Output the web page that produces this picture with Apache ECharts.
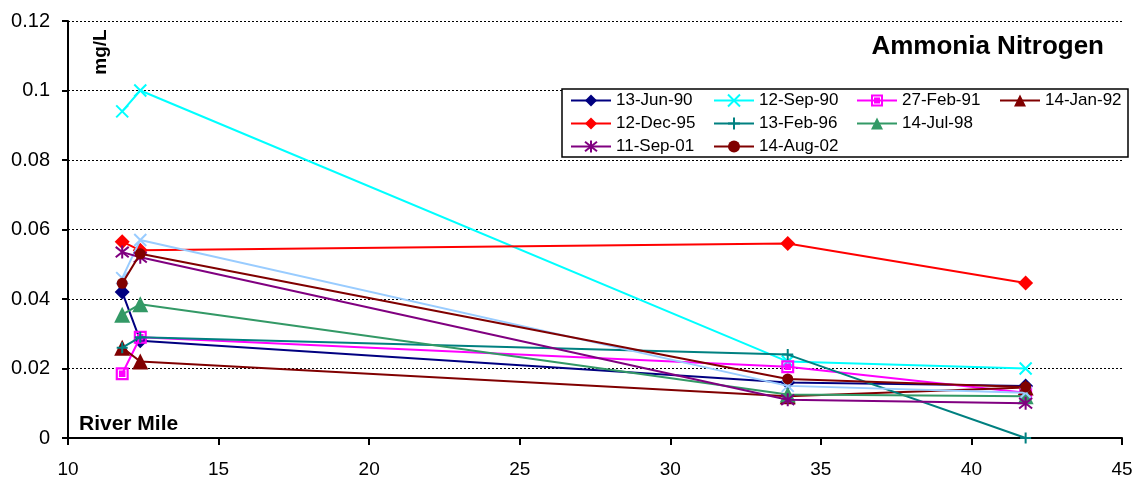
<!DOCTYPE html>
<html>
<head>
<meta charset="utf-8">
<script src="https://cdn.jsdelivr.net/npm/echarts@6/dist/echarts.min.js"></script>
<style>html,body{margin:0;padding:0;background:#fff}#c{width:1141px;height:485px}</style>
</head>
<body>
<div id="c"></div>
<script>
var riverMile = [11.8, 12.4, 33.9, 41.8];
var seriesNames = ['13-Jun-90','12-Sep-90','27-Feb-91','14-Jan-92','12-Dec-95','13-Feb-96','14-Jul-98','12-Oct-99','11-Sep-01','14-Aug-02'];
var jun90 = [0.042, 0.028, 0.016, 0.015];
var sep90 = [0.094, 0.100, 0.022, 0.020];
var feb91 = [0.0185, 0.029, 0.0205, 0.013];
var jan92 = [0.026, 0.022, 0.012, 0.0145];
var dec95 = [0.0565, 0.054, 0.056, 0.0446];
var feb96 = [0.026, 0.029, 0.024, 0.000];
var jul98 = [0.0355, 0.0385, 0.0125, 0.012];
var oct99 = [0.046, 0.057, 0.015, 0.013];
var sep01 = [0.0535, 0.052, 0.011, 0.010];
var aug02 = [0.0445, 0.053, 0.017, 0.0147];
var yTicks = [0, 0.02, 0.04, 0.06, 0.08, 0.1, 0.12];
var xTicks = [10, 15, 20, 25, 30, 35, 40, 45];

var values = [jun90, sep90, feb91, jan92, dec95, feb96, jul98, oct99, sep01, aug02];
var colors = ['#000080','#00FFFF','#FF00FF','#800000','#FF0000','#008080','#339966','#99CCFF','#800080','#800000'];
var XP = 'path://M0,0L10,10M10,0L0,10';
var PLUS = 'path://M5,0L5,10M0,5L10,5';
var STAR = 'path://M5,0L5,10M0,1L10,9M10,1L0,9';
var SQ = 'path://M0,0H12V12H0Z M2,2V10H10V2Z M3,3H9V9H3Z';
var symbols = ['diamond', XP, SQ, 'triangle', 'diamond', PLUS, 'triangle', XP, STAR, 'circle'];
var sizes = [15, 12, 13, 16, 15, 11, 16, 12, 13, 11];
var stroked = [false, true, false, false, false, true, false, true, true, false];
var FONT = '"Liberation Sans", Arial, sans-serif';

var series = values.map(function (v, i) {
  return {
    name: seriesNames[i],
    type: 'line',
    data: riverMile.map(function (x, k) { return [x, v[k]]; }),
    symbol: symbols[i],
    symbolSize: sizes[i],
    lineStyle: { color: colors[i], width: 2 },
    itemStyle: { color: stroked[i] ? 'rgba(0,0,0,0)' : colors[i], borderColor: colors[i], borderWidth: stroked[i] ? 2 : 0 },
    emphasis: { disabled: true },
    animation: false,
    z: 2 + i * 0.01
  };
});

var cols = [
  ['13-Jun-90','12-Dec-95','11-Sep-01'],
  ['12-Sep-90','13-Feb-96','14-Aug-02'],
  ['27-Feb-91','14-Jul-98'],
  ['14-Jan-92']
];
var colX = [570, 713, 856, 999];
var legends = cols.map(function (c, i) {
  return {
    data: c, orient: 'vertical', left: colX[i], top: 92, padding: 0,
    itemWidth: 40, itemHeight: 15, itemGap: 6, selectedMode: false,
    textStyle: { fontFamily: FONT, fontSize: 17, color: '#000', lineHeight: 15 },
    z: 10
  };
});

var chart = echarts.init(document.getElementById('c'));
chart.setOption({
  animation: false,
  backgroundColor: '#fff',
  grid: { left: 68, top: 21, right: 19, bottom: 47, containLabel: false },
  legend: legends,
  xAxis: {
    type: 'value', min: xTicks[0], max: xTicks[xTicks.length - 1], interval: 5,
    axisLine: { show: true, lineStyle: { color: '#000', width: 2 } },
    axisTick: { show: true, inside: false, length: 7, lineStyle: { color: '#000', width: 2 } },
    axisLabel: { fontFamily: FONT, fontSize: 19, color: '#000', margin: 22 },
    splitLine: { show: false }
  },
  yAxis: {
    type: 'value', min: yTicks[0], max: yTicks[yTicks.length - 1], interval: 0.02,
    axisLine: { show: true, lineStyle: { color: '#000', width: 2 } },
    axisTick: { show: true, inside: false, length: 6, lineStyle: { color: '#000', width: 2 } },
    axisLabel: { fontFamily: FONT, fontSize: 20, color: '#000', margin: 18,
      formatter: function (v) { return String(+v.toFixed(2)); } },
    splitLine: { show: true, lineStyle: { color: '#000', width: 1, type: [2, 2] } }
  },
  graphic: [
    { type: 'rect', shape: { x: 562, y: 89, width: 566, height: 68 }, style: { fill: '#fff', stroke: '#000', lineWidth: 1.5 }, z: 9 },
    { type: 'text', x: 1104, y: 47, style: { text: 'Ammonia Nitrogen', font: 'bold 26px ' + FONT, fill: '#000', align: 'right', verticalAlign: 'middle' }, z: 9 },
    { type: 'text', x: 101, y: 52, rotation: Math.PI / 2, style: { text: 'mg/L', font: 'bold 19px ' + FONT, fill: '#000', align: 'center', verticalAlign: 'middle' }, z: 9 },
    { type: 'text', x: 79, y: 424, style: { text: 'River Mile', font: 'bold 21px ' + FONT, fill: '#000', align: 'left', verticalAlign: 'middle' }, z: 9 }
  ],
  series: series
});
</script>
</body>
</html>
